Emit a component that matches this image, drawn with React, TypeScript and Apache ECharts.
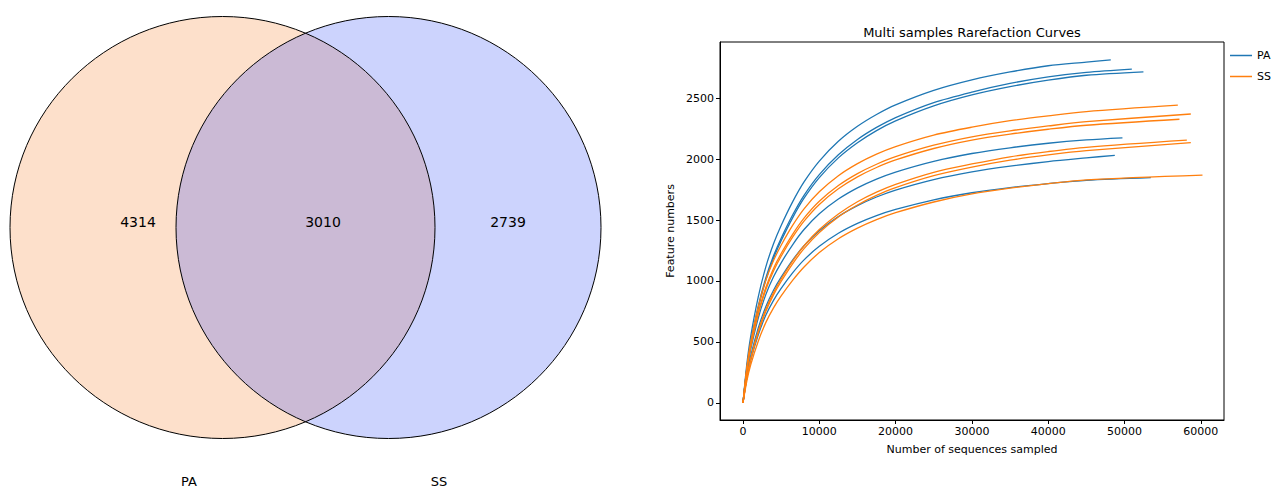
import React, { useEffect, useRef } from "react";
import * as echarts from "echarts";

// ---- Venn data ----
const vennSets = ["PA", "SS"];
const vennCounts = [4314, 3010, 2739]; // PA only, shared, SS only

// ---- Rarefaction data ----
const depthSteps = [0, 500, 1000, 2000, 3000, 4000, 5000, 6500, 8000, 10000, 12500, 15000, 17500, 20000, 25000, 30000, 35000, 40000, 45000];
const paEnds = [48200, 50960, 52480, 49730, 48730, 53450];
const paCurves = [
  [0, 316, 542, 870, 1118, 1305, 1455, 1649, 1813, 1984, 2146, 2269, 2366, 2445, 2564, 2650, 2715, 2766, 2796, 2815],
  [0, 283, 489, 793, 1027, 1206, 1351, 1541, 1703, 1873, 2035, 2161, 2260, 2341, 2464, 2550, 2621, 2675, 2712, 2739],
  [0, 277, 479, 778, 1009, 1187, 1330, 1518, 1679, 1848, 2010, 2134, 2234, 2314, 2437, 2527, 2595, 2648, 2688, 2716],
  [0, 256, 436, 696, 890, 1034, 1149, 1297, 1422, 1551, 1672, 1764, 1836, 1894, 1982, 2046, 2093, 2130, 2157, 2174],
  [0, 222, 382, 614, 791, 924, 1031, 1171, 1289, 1412, 1529, 1618, 1689, 1746, 1832, 1895, 1942, 1980, 2010, 2031],
  [0, 203, 348, 559, 720, 841, 939, 1066, 1173, 1284, 1391, 1472, 1536, 1587, 1666, 1724, 1766, 1799, 1826, 1848],
];
const ssEnds = [56990, 58690, 57200, 58170, 58690, 60220];
const ssCurves = [
  [0, 292, 498, 790, 1007, 1167, 1293, 1456, 1592, 1732, 1864, 1963, 2041, 2103, 2197, 2262, 2315, 2355, 2390, 2443],
  [0, 272, 464, 741, 949, 1103, 1225, 1383, 1516, 1654, 1783, 1881, 1958, 2020, 2114, 2183, 2232, 2272, 2307, 2370],
  [0, 265, 454, 726, 930, 1082, 1203, 1359, 1491, 1628, 1756, 1854, 1931, 1993, 2087, 2156, 2205, 2245, 2278, 2327],
  [0, 208, 361, 590, 767, 904, 1016, 1163, 1289, 1422, 1550, 1650, 1729, 1793, 1892, 1960, 2019, 2062, 2097, 2155],
  [0, 204, 353, 576, 751, 886, 996, 1141, 1265, 1397, 1525, 1623, 1702, 1766, 1864, 1934, 1991, 2034, 2069, 2135],
  [0, 178, 310, 506, 660, 779, 877, 1005, 1115, 1233, 1346, 1433, 1503, 1560, 1648, 1714, 1761, 1799, 1830, 1869],
];
const xTicks = [0, 10000, 20000, 30000, 40000, 50000, 60000];
const yTicks = [0, 500, 1000, 1500, 2000, 2500];

const FONT = '"DejaVu Sans", sans-serif';
const C_PA = "#1f77b4";
const C_SS = "#ff7f0e";

// Venn geometry
const L = { cx: 222.5, cy: 227.5, rx: 212.5, ry: 211 };
const R = { cx: 388.5, cy: 227.5, rx: 212.5, ry: 211 };
const mx = (L.cx + R.cx) / 2;
const dxh = mx - L.cx;
const hy = L.ry * Math.sqrt(1 - (dxh / L.rx) * (dxh / L.rx));
const lensD = `M${mx},${L.cy - hy} A${L.rx},${L.ry} 0 0 1 ${mx},${L.cy + hy} A${R.rx},${R.ry} 0 0 1 ${mx},${L.cy - hy} Z`;
echarts.graphic.registerShape("vennLens", echarts.graphic.extendPath(lensD, {}) as any);

function buildSeries(name: string, color: string, curves: number[][], ends: number[]) {
  return curves.map((vals, i) => ({
    name,
    type: "line",
    symbol: "none",
    smooth: 0.3,
    color,
    lineStyle: { color, width: 1.3 },
    data: vals.map((v, j) => [j < depthSteps.length ? depthSteps[j] : ends[i], v]),
  }));
}

export default function App() {
  const ref = useRef<HTMLDivElement>(null);
  useEffect(() => {
    document.body.style.margin = "0";
    const chart = echarts.init(ref.current!, null, { renderer: "svg" });
    const textStyle = (text: string, size: number) => ({
      text,
      fontSize: size,
      fontFamily: FONT,
      fill: "#000",
      align: "center",
      verticalAlign: "middle",
    });
    const plain = (v: number) => String(v);
    chart.setOption({
      animation: false,
      textStyle: { fontFamily: FONT },
      grid: {
        left: 720,
        top: 42,
        width: 504,
        height: 378,
        show: true,
        borderColor: "#000",
        borderWidth: 1,
        backgroundColor: "transparent",
      },
      legend: {
        data: ["PA", "SS"],
        orient: "vertical",
        left: 1225,
        top: 45,
        itemGap: 10,
        itemWidth: 22,
        itemHeight: 1.5,
        icon: "rect",
        textStyle: { fontSize: 11, color: "#000", fontFamily: FONT },
      },
      xAxis: {
        type: "value",
        min: -3015,
        max: 63040,
        name: "Number of sequences sampled",
        nameLocation: "middle",
        nameGap: 24,
        nameTextStyle: { fontSize: 11, color: "#000", fontFamily: FONT },
        axisLine: { show: true, onZero: false, lineStyle: { color: "#000", width: 1 } },
        axisTick: { show: true, length: 4, lineStyle: { color: "#000" }, customValues: xTicks },
        axisLabel: { fontSize: 11, color: "#000", margin: 6, customValues: xTicks, fontFamily: FONT, formatter: plain },
        splitLine: { show: false },
      },
      yAxis: {
        type: "value",
        min: -141,
        max: 2961,
        name: "Feature numbers",
        nameLocation: "middle",
        nameGap: 44,
        nameRotate: 90,
        nameTextStyle: { fontSize: 11, color: "#000", fontFamily: FONT },
        axisLine: { show: true, onZero: false, lineStyle: { color: "#000", width: 1 } },
        axisTick: { show: true, length: 4, lineStyle: { color: "#000" }, customValues: yTicks },
        axisLabel: { fontSize: 11, color: "#000", margin: 6, customValues: yTicks, fontFamily: FONT, formatter: plain },
        splitLine: { show: false },
      },
      series: [...buildSeries("PA", C_PA, paCurves, paEnds), ...buildSeries("SS", C_SS, ssCurves, ssEnds)],
      graphic: [
        { type: "ellipse", shape: { cx: L.cx, cy: L.cy, rx: L.rx, ry: L.ry }, style: { fill: "#fde0cb" } },
        { type: "ellipse", shape: { cx: R.cx, cy: R.cy, rx: R.rx, ry: R.ry }, style: { fill: "#ccd3fd" } },
        { type: "vennLens", x: 0, y: 0, style: { fill: "#cbbad5" } },
        { type: "ellipse", shape: { cx: L.cx, cy: L.cy, rx: L.rx, ry: L.ry }, style: { fill: "none", stroke: "#000", lineWidth: 1 } },
        { type: "ellipse", shape: { cx: R.cx, cy: R.cy, rx: R.rx, ry: R.ry }, style: { fill: "none", stroke: "#000", lineWidth: 1 } },
        { type: "text", x: 138, y: 222, style: textStyle(String(vennCounts[0]), 14) },
        { type: "text", x: 323, y: 222, style: textStyle(String(vennCounts[1]), 14) },
        { type: "text", x: 508, y: 222, style: textStyle(String(vennCounts[2]), 14) },
        { type: "text", x: 189, y: 481, style: textStyle(vennSets[0], 13) },
        { type: "text", x: 439, y: 481, style: textStyle(vennSets[1], 13) },
        { type: "text", x: 972, y: 32, style: textStyle("Multi samples Rarefaction Curves", 13) },
      ],
    });
    return () => chart.dispose();
  }, []);
  return <div ref={ref} style={{ width: 1282, height: 492 }} />;
}
